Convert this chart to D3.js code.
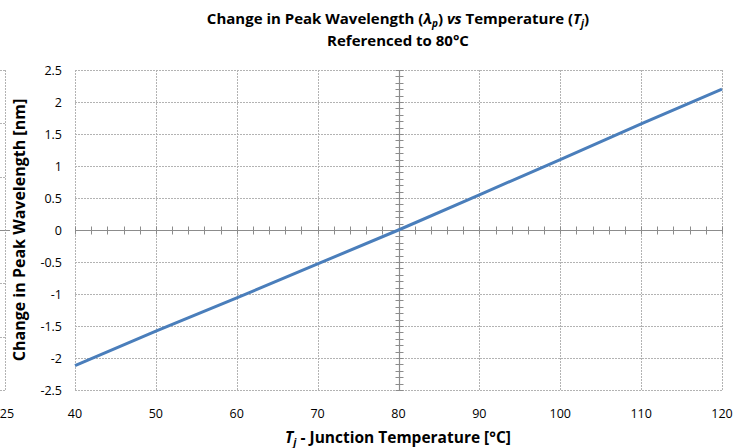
<!DOCTYPE html>
<meta charset="utf-8">
<style>
  body { margin: 0; background: #fff; }
  text { font-family: "Open Sans", sans-serif; }
</style>
<svg width="756" height="448"></svg>
<script src="https://d3js.org/d3.v7.min.js"></script>
<script>

    // data
    var temps = [40, 50, 60, 70, 80, 90, 100, 110, 120];
    var shift = [-2.12, -1.58, -1.06, -0.53, 0, 0.55, 1.1, 1.66, 2.2];
    var xTicks = [40, 50, 60, 70, 80, 90, 100, 110, 120];
    var yTicks = [-2.5, -2, -1.5, -1, -0.5, 0, 0.5, 1, 1.5, 2, 2.5];
    // bit of a neighbouring chart cut off at the left edge
    var leftTicks = [-3, -2, -1, 0, 1, 2, 3];

    var svg = d3.select("svg"),
        pLeft = 75, pRight = 722, pTop = 70, pBottom = 390;

    var x = d3.scaleLinear().domain([40, 120]).range([pLeft, pRight]);
    var y = d3.scaleLinear().domain([-2.5, 2.5]).range([pBottom, pTop]);
    var yl = d3.scaleLinear().domain([-3, 3]).range([pBottom, pTop]);

    var grid = "#b3b3b3", axisCol = "#8c8c8c";

    // remnant on the left
    svg.append("line")
        .attr("x1", 5.5).attr("x2", 5.5).attr("y1", pTop).attr("y2", pBottom)
        .attr("stroke", grid).attr("stroke-dasharray", "2,1");
    svg.selectAll(".lt").data(leftTicks).enter().append("line")
        .attr("x1", 0).attr("x2", 5.5)
        .attr("y1", function (d) { return Math.round(yl(d)) + 0.5; })
        .attr("y2", function (d) { return Math.round(yl(d)) + 0.5; })
        .attr("stroke", function (d) { return d == 0 ? axisCol : grid; })
        .attr("stroke-dasharray", function (d) { return d == 0 ? null : "2,1"; });
    svg.append("line")
        .attr("x1", 5.5).attr("x2", 10).attr("y1", Math.round(yl(0)) + 0.5).attr("y2", Math.round(yl(0)) + 0.5)
        .attr("stroke", axisCol);
    svg.append("text").attr("x", 7).attr("y", 418)
        .attr("text-anchor", "middle").attr("font-size", 12.5).text("25");

    // gridlines
    svg.selectAll(".gx").data(xTicks).enter().append("line")
        .attr("x1", function (d) { return Math.round(x(d)) + 0.5; })
        .attr("x2", function (d) { return Math.round(x(d)) + 0.5; })
        .attr("y1", pTop).attr("y2", pBottom)
        .attr("stroke", grid).attr("stroke-dasharray", "2,1");
    svg.selectAll(".gy").data(yTicks).enter().append("line")
        .attr("x1", pLeft).attr("x2", pRight)
        .attr("y1", function (d) { return Math.round(y(d)) + 0.5; })
        .attr("y2", function (d) { return Math.round(y(d)) + 0.5; })
        .attr("stroke", grid).attr("stroke-dasharray", "2,1");

    // tick labels
    svg.selectAll(".yl").data(yTicks).enter().append("text")
        .attr("x", 62).attr("y", function (d) { return y(d) + 4.5; })
        .attr("text-anchor", "end").attr("font-size", 12.5)
        .text(function (d) { return d; });
    svg.selectAll(".xl").data(xTicks).enter().append("text")
        .attr("x", function (d) { return x(d); }).attr("y", 418)
        .attr("text-anchor", "middle").attr("font-size", 12.5)
        .text(function (d) { return d; });

    // axes crossing at (80, 0) with minor ticks
    var y0 = Math.round(y(0)) + 0.5, x0 = Math.round(x(80)) + 0.5;
    svg.append("line").attr("x1", pLeft).attr("x2", pRight).attr("y1", y0).attr("y2", y0)
        .attr("stroke", axisCol).attr("stroke-width", 1.2);
    svg.append("line").attr("x1", x0).attr("x2", x0).attr("y1", pTop).attr("y2", pBottom)
        .attr("stroke", axisCol).attr("stroke-width", 1.2);

    var xMinor = d3.range(40, 120.1, 2);
    svg.selectAll(".mx").data(xMinor).enter().append("line")
        .attr("x1", function (d) { return Math.round(x(d)) + 0.5; })
        .attr("x2", function (d) { return Math.round(x(d)) + 0.5; })
        .attr("y1", y0 - 4).attr("y2", y0 + 4)
        .attr("stroke", axisCol);
    var yMinor = d3.range(-25, 25.1, 1).map(function (d) { return d / 10; });
    svg.selectAll(".my").data(yMinor).enter().append("line")
        .attr("x1", x0 - 4).attr("x2", x0 + 4)
        .attr("y1", function (d) { return Math.round(y(d)) + 0.5; })
        .attr("y2", function (d) { return Math.round(y(d)) + 0.5; })
        .attr("stroke", axisCol);

    // the series
    var line = d3.line()
        .x(function (d, i) { return x(temps[i]); })
        .y(function (d) { return y(d); });
    svg.append("path").datum(shift)
        .attr("d", line)
        .attr("fill", "none")
        .attr("stroke", "#4a7ebb")
        .attr("stroke-width", 3);

    // titles
    var t1 = svg.append("text").attr("x", 398).attr("y", 24)
        .attr("text-anchor", "middle").attr("font-size", 15).attr("font-weight", "bold");
    t1.append("tspan").text("Change in Peak Wavelength (");
    t1.append("tspan").attr("font-style", "italic").text("λ");
    t1.append("tspan").attr("font-style", "italic").attr("font-size", 10).attr("dy", 3).text("p");
    t1.append("tspan").attr("dy", -3).text(") ");
    t1.append("tspan").attr("font-style", "italic").text("vs");
    t1.append("tspan").text(" Temperature (");
    t1.append("tspan").attr("font-style", "italic").text("T");
    t1.append("tspan").attr("font-style", "italic").attr("font-size", 10).attr("dy", 3).text("j");
    t1.append("tspan").attr("dy", -3).text(")");

    svg.append("text").attr("x", 398).attr("y", 46)
        .attr("text-anchor", "middle").attr("font-size", 15).attr("font-weight", "bold")
        .text("Referenced to 80°C");

    var xt = svg.append("text").attr("x", 398).attr("y", 443)
        .attr("text-anchor", "middle").attr("font-size", 15.5).attr("font-weight", "bold");
    xt.append("tspan").attr("font-style", "italic").text("T");
    xt.append("tspan").attr("font-style", "italic").attr("font-size", 10.5).attr("dy", 3).text("j");
    xt.append("tspan").attr("dy", -3).text(" - Junction Temperature [°C]");

    svg.append("text")
        .attr("transform", "translate(25," + y(0) + ") rotate(-90)")
        .attr("text-anchor", "middle").attr("font-size", 16).attr("font-weight", "bold")
        .text("Change in Peak Wavelength [nm]");

</script>
